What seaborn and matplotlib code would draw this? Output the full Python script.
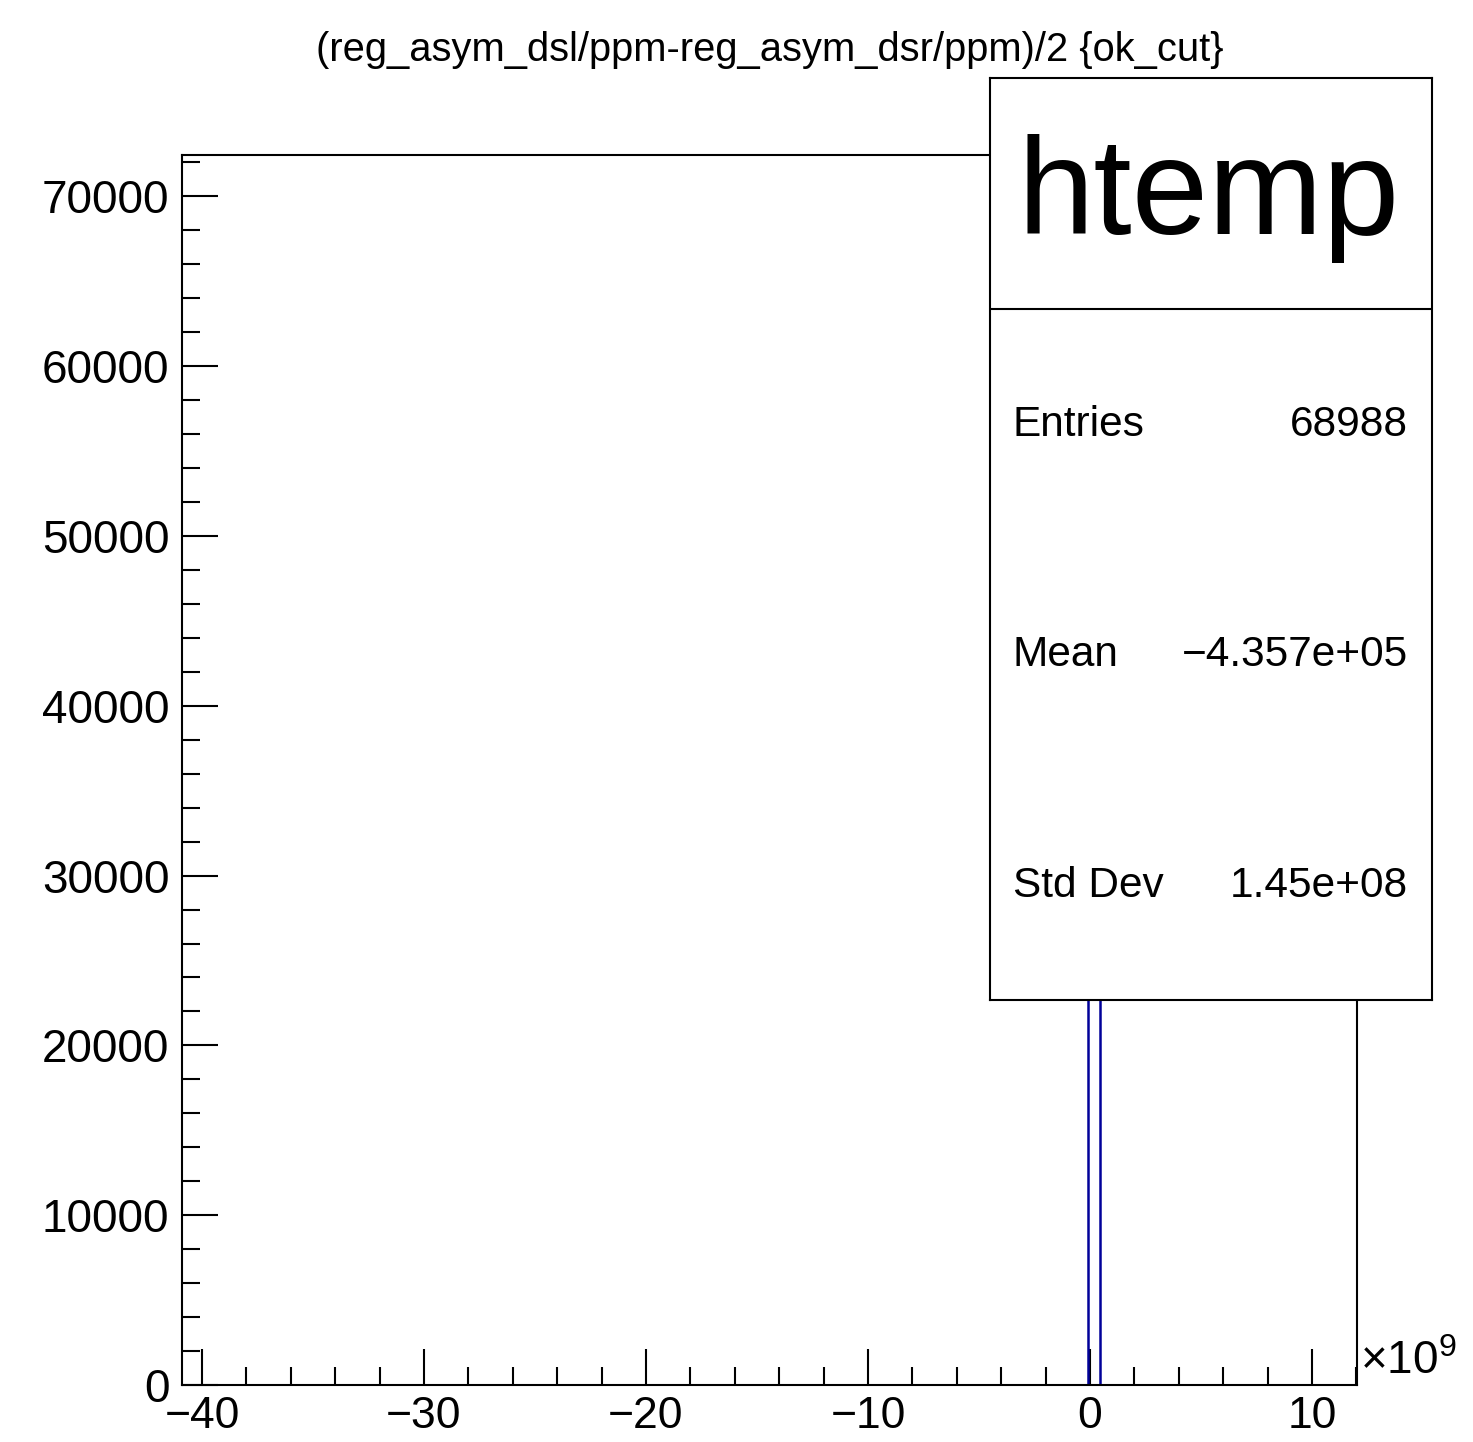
#!/usr/bin/env python3
# -*- coding: utf-8 -*-
"""
ROOT-style histogram of (reg_asym_dsl/ppm-reg_asym_dsr/ppm)/2 with stats box
"""
import matplotlib
matplotlib.use('Agg')
import matplotlib.pyplot as plt
import seaborn as sns
import numpy as np
from matplotlib.ticker import MultipleLocator

# Data (x values in units of 1e9)
entry_values = [-40.8, 0.1, 12.0]
entry_weights = [1, 68986, 1]
x_limits = (-40.91, 12.01)
bin_range = (-40.82, 12.10)
n_bins = 100
y_max = 72435

title_text = "(reg_asym_dsl/ppm-reg_asym_dsr/ppm)/2 {ok_cut}"
stats_name = "htemp"
stats_labels = ["Entries", "Mean", "Std Dev"]
stats_values = ["68988", "\u22124.357e+05", "1.45e+08"]

sns.set_style('ticks')
plt.rcParams['font.family'] = ['Liberation Sans', 'DejaVu Sans']
plt.rcParams['mathtext.fontset'] = 'custom'
plt.rcParams['mathtext.rm'] = 'Liberation Sans'
plt.rcParams['mathtext.it'] = 'Liberation Sans'
plt.rcParams['text.color'] = 'black'
plt.rcParams['xtick.labelcolor'] = 'black'
plt.rcParams['ytick.labelcolor'] = 'black'

fig = plt.figure(figsize=(14.73, 14.42), dpi=100)
ax = fig.add_axes([0.1234, 0.0395, 0.7976, 0.853])

sns.histplot(x=entry_values, weights=entry_weights, bins=n_bins, binrange=bin_range,
             element='step', fill=False, color='#000099', linewidth=1.8, ax=ax)

ax.set_xlim(*x_limits)
ax.set_ylim(0, y_max)
ax.set_xlabel('')
ax.set_ylabel('')

ax.xaxis.set_major_locator(MultipleLocator(10))
ax.xaxis.set_minor_locator(MultipleLocator(2))
ax.yaxis.set_major_locator(MultipleLocator(10000))
ax.yaxis.set_minor_locator(MultipleLocator(2000))
ax.tick_params(which='both', direction='in', width=1.5, colors='black',
               top=False, right=False, labelsize=33)
ax.tick_params(which='major', length=26)
ax.tick_params(which='minor', length=13)
ax.tick_params(axis='x', pad=8, labelsize=32)
ax.tick_params(axis='y', pad=9)
for s in ax.spines.values():
    s.set_visible(True)
    s.set_linewidth(1.5)
    s.set_color('black')

fig.text(0.5224, 0.965, title_text, ha='center', va='center', fontsize=28.7, color='black')
fig.text(0.9235, 0.04, r'$\times10^{9}$', ha='left', va='bottom', fontsize=33, color='black')

# stats box
sx0, sx1 = 990 / 1473, 1432 / 1473
sy1, sy0 = 1 - 78 / 1442, 1 - 1000 / 1442
st = fig.add_axes([sx0, sy0, sx1 - sx0, sy1 - sy0])
st.set_facecolor('white')
st.set_xticks([])
st.set_yticks([])
st.set_xlim(0, 1)
st.set_ylim(0, 1)
for s in st.spines.values():
    s.set_visible(True)
    s.set_linewidth(1.5)
    s.set_color('black')
st.axhline(0.7495, color='black', linewidth=1.5)
st.text(0.495, 0.831, stats_name, ha='center', va='baseline', fontsize=99, color='black')
rows_y = [0.624, 0.374, 0.124]
for lab, val, yy in zip(stats_labels, stats_values, rows_y):
    st.text(0.052, yy, lab, ha='left', va='center', fontsize=30.5, color='black')
    st.text(0.946, yy, val, ha='right', va='center', fontsize=30.5, color='black')

plt.savefig('out.png', dpi=100)
